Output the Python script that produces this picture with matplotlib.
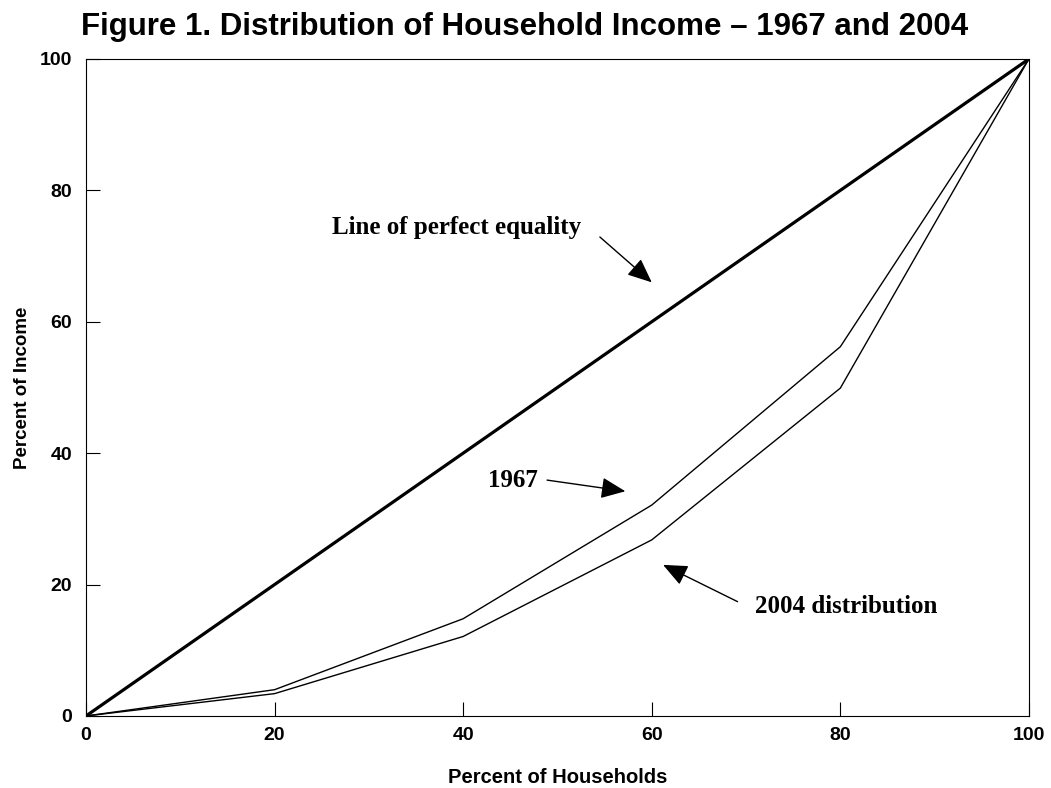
import matplotlib
matplotlib.use("Agg")
import matplotlib.pyplot as plt

# cumulative share of income by quintile of households
households = [0, 20, 40, 60, 80, 100]
equality = [0, 20, 40, 60, 80, 100]
income_1967 = [0, 4.0, 14.8, 32.1, 56.2, 100]
income_2004 = [0, 3.4, 12.1, 26.8, 49.9, 100]

plt.rcParams['font.family'] = ['Liberation Sans', 'DejaVu Sans']

fig = plt.figure(figsize=(10.51, 7.88), dpi=100)
ax = fig.add_axes([0.0818, 0.0914, 0.8972, 0.8338])

ax.plot(households, equality, color='black', linewidth=2.3)
ax.plot(households, income_1967, color='black', linewidth=1.0)
ax.plot(households, income_2004, color='black', linewidth=1.0)

ax.set_xlim(0, 100)
ax.set_ylim(0, 100)
ax.set_xticks(households)
ax.set_yticks([0, 20, 40, 60, 80, 100])
ax.tick_params(direction='in', length=10, width=0.8, labelsize=14)
ax.tick_params(axis='y', pad=10)
ax.tick_params(axis='x', pad=8)
for lab in ax.get_xticklabels() + ax.get_yticklabels():
    lab.set_fontweight('bold')
for sp in ax.spines.values():
    sp.set_linewidth(0.8)

ax.set_xlabel('Percent of Households', fontsize=14.5, fontweight='bold', labelpad=17)
ax.set_ylabel('Percent of Income', fontsize=13.5, fontweight='bold', labelpad=6)
fig.text(0.499, 1 - 35 / 788, 'Figure 1. Distribution of Household Income \u2013 1967 and 2004',
         ha='center', va='baseline', fontsize=22.5, fontweight='bold')

serif = dict(family='Liberation Serif', fontsize=18, fontweight='bold')
arrow = dict(arrowstyle='-|>,head_length=1.5,head_width=0.65', color='black',
             linewidth=1.0, shrinkA=0, shrinkB=0)
ax.annotate('', xy=(60.0, 66.0), xytext=(54.5, 72.9), arrowprops=arrow)
ax.text(39.3, 74.4, 'Line of perfect equality', ha='center', va='center', **serif)
ax.annotate('', xy=(57.2, 34.2), xytext=(48.9, 35.9), arrowprops=arrow)
ax.text(45.3, 35.9, '1967', ha='center', va='center', **serif)
ax.annotate('', xy=(61.2, 23.0), xytext=(69.1, 17.4), arrowprops=arrow)
ax.text(80.6, 16.6, '2004 distribution', ha='center', va='center', **serif)

fig.savefig('out.png', dpi=100)
